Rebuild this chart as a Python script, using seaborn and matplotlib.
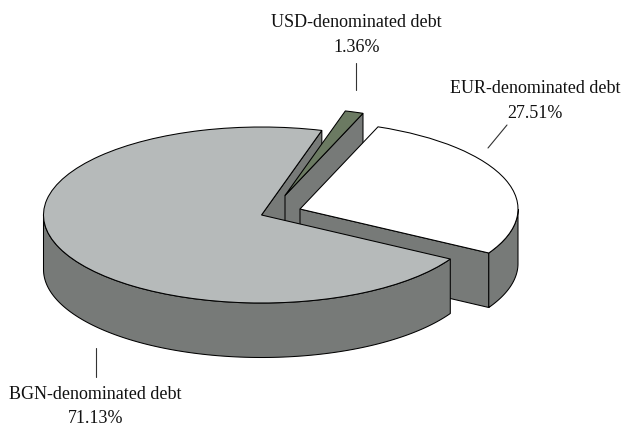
import numpy as np
import matplotlib
matplotlib.use('Agg')
import matplotlib.pyplot as plt
from matplotlib.patches import Polygon
import seaborn as sns

labels = ['EUR-denominated debt', 'USD-denominated debt', 'BGN-denominated debt']
shares = [27.51, 1.36, 71.13]
top_colors = ['#ffffff', '#6b7a62', '#b6baba']
wall_color = '#777a78'

# picture geometry, in reference pixels
W, H = 623, 427
CX, CY, RX, RY = 261.5, 216, 218, 88
DEPTH = 54.5 / RY
shifts = [(38.5, -6), (23.5, -19.5), (0, 0)]
text_pos = [(535, 101), (356.5, 35), (95.5, 406.5)]
leaders = [((507, 126), (488, 149)), ((355.7, 64), (355.7, 91)), ((95.7, 349), (95.7, 378))]

sns.set_style('white')
plt.rcParams['font.family'] = ['Liberation Serif', 'DejaVu Serif']

fig, ax = plt.subplots(figsize=(W / 100, H / 100), dpi=100)
ax.set_position([0, 0, 1, 1])
edge = dict(edgecolor='black', linewidth=0.75)
wedges, _ = ax.pie(shares, colors=top_colors, startangle=-30, radius=1, wedgeprops=edge)
ax.set_aspect('auto')
ax.set_xlim(-CX / RX, (W - CX) / RX)
ax.set_ylim((CY - H) / RY, CY / RY)
ax.axis('off')


def radial_wall(c, theta, z):
    t = np.radians(theta)
    pts = [c, (c[0] + np.cos(t), c[1] + np.sin(t))]
    pts += [(pts[1][0], pts[1][1] - DEPTH), (c[0], c[1] - DEPTH)]
    ax.add_patch(Polygon(pts, closed=True, facecolor=wall_color, zorder=z, **edge))


def outer_wall(c, t1, t2, z):
    # only the part of the rim that faces the viewer
    t = np.radians(np.linspace(t1, t2, 120))
    x = c[0] + np.cos(t)
    y = c[1] + np.sin(t)
    pts = np.r_[np.c_[x, y], np.c_[x[::-1], y[::-1] - DEPTH]]
    ax.add_patch(Polygon(pts, closed=True, facecolor=wall_color, zorder=z, **edge))


# back to front: BGN cut face, USD, EUR, then the BGN body over everything
order = {1: 2, 0: 4, 2: 6}
for i, w in enumerate(wedges):
    dx, dy = shifts[i]
    c = (dx / RX, -dy / RY)
    w.set_center(c)
    z = order[i]
    t1, t2 = w.theta1, w.theta2
    if np.cos(np.radians(t1)) > 0:
        radial_wall(c, t1, 1 if i == 2 else z)
    if np.cos(np.radians(t2)) < 0:
        radial_wall(c, t2, 1 if i == 2 else z)
    if t1 < 0:
        outer_wall(c, t1, min(t2, 0), z)
    elif t2 > 180:
        outer_wall(c, max(t1, 180), t2, z)
    w.set_zorder(z + 1)

for name, val, (x, y), (p0, p1) in zip(labels, shares, text_pos, leaders):
    fig.text(x / W, 1 - y / H, f'{name}\n{val:.2f}%', ha='center', va='center',
             fontsize=13, color='#111111', linespacing=1.55)
    ax.plot([(p0[0] - CX) / RX, (p1[0] - CX) / RX], [(CY - p0[1]) / RY, (CY - p1[1]) / RY],
            color='#333333', lw=0.8, zorder=8)

fig.savefig('out.png', dpi=100, facecolor='white')
